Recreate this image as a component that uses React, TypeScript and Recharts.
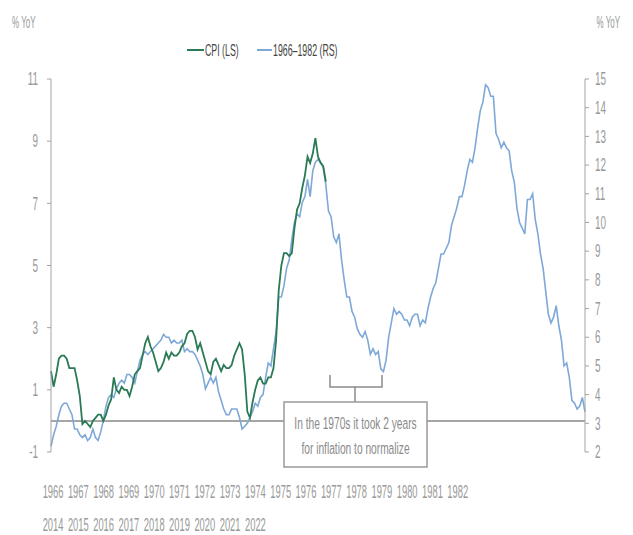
import React from "react";
import { LineChart, Line, XAxis, YAxis, ReferenceLine } from "recharts";

// CPI YoY, monthly, Jan 2014 - Oct 2022 (left scale)
const cpiValues = [
    1.6, 1.1, 1.5, 2.0, 2.1, 2.1, 2.0, 1.7, 1.7, 1.7, 1.3, 0.8,
    -0.1, 0.0, -0.1, -0.2, 0.0, 0.1, 0.2, 0.2, 0.0, 0.2, 0.5, 0.7,
    1.4, 1.0, 0.9, 1.1, 1.0, 1.0, 0.8, 1.1, 1.5, 1.6, 1.7, 2.1,
    2.5, 2.7, 2.4, 2.2, 1.9, 1.6, 1.7, 1.9, 2.2, 2.0, 2.2, 2.1,
    2.1, 2.2, 2.4, 2.5, 2.8, 2.9, 2.9, 2.7, 2.3, 2.5, 2.2, 1.9,
    1.6, 1.5, 1.9, 2.0, 1.8, 1.6, 1.8, 1.7, 1.7, 1.8, 2.1, 2.3,
    2.5, 2.3, 1.5, 0.3, 0.1, 0.6, 1.0, 1.3, 1.4, 1.2, 1.2, 1.4,
    1.4, 1.7, 2.6, 4.2, 5.0, 5.4, 5.4, 5.3, 5.4, 6.2, 6.8, 7.0,
    7.5, 7.9, 8.5, 8.3, 8.6, 9.1, 8.5, 8.3, 8.2, 7.7,
];

// 1966-1982 path (right scale), one point per month as drawn
const blueValues = [
    2.2, 2.6, 2.9, 3.3, 3.6, 3.7, 3.7, 3.5, 3.3, 2.8, 2.8, 2.6,
    2.5, 2.6, 2.4, 2.5, 2.8, 2.5, 2.4, 2.7, 3.1, 3.6,
    3.9, 4.0, 3.9, 4.2, 4.4, 4.5, 4.4, 4.7, 4.7, 4.6,
    4.4, 4.8, 5.2, 5.4, 5.5, 5.4, 5.5, 5.6, 5.7, 5.8, 5.9, 6.1,
    6.0, 6.0, 5.8, 5.9, 5.8, 5.8, 5.9, 5.5, 5.6, 5.5, 5.5, 5.4,
    5.2, 5.0, 4.7, 4.2, 4.4, 4.6, 4.4, 4.6, 4.1, 3.8, 3.5, 3.3,
    3.3, 3.5, 3.5, 3.5, 3.2, 2.8, 2.9, 3.0, 3.2, 3.4, 3.7, 3.6,
    3.9, 4.0, 4.6, 5.1, 5.0, 5.6, 6.2, 7.4, 7.4, 7.8, 8.4, 8.7,
    9.4, 10.0, 10.3, 10.2, 10.7, 10.9, 11.5, 10.9, 11.8, 12.1, 12.2, 12.1,
    11.9, 11.3, 10.4, 10.2, 9.5, 9.3, 9.6, 8.7, 8.0, 7.4, 7.4, 6.9,
    6.7, 6.3, 6.1, 6.0, 6.2, 5.9, 5.4, 5.6, 5.4, 5.5, 4.9, 4.8,
    5.2, 6.0, 6.5, 7.0, 6.8, 6.9, 6.8, 6.6, 6.6, 6.4, 6.7, 6.8,
    6.8, 6.4, 6.6, 6.5, 7.0, 7.4, 7.7, 7.9, 8.4, 8.9, 8.9, 9.1,
    9.3, 9.9, 10.2, 10.5, 10.9, 10.9, 11.3, 11.8, 12.2, 12.1, 12.6, 13.3,
    13.9, 14.2, 14.8, 14.7, 14.4, 14.4, 13.1, 12.9, 12.6, 12.8, 12.6, 12.5,
    11.8, 11.4, 10.5, 10.0, 9.8, 9.6, 10.8, 10.8, 11.0, 10.1, 9.6, 8.9,
    8.4, 7.6, 6.8, 6.5, 6.7, 7.1, 6.4, 5.9, 5.0, 5.1, 4.6, 3.8,
    3.7, 3.5, 3.6, 3.9, 3.4,
];

const topYears = [
    "1966", "1967", "1968", "1969", "1970", "1971", "1972", "1973", "1974",
    "1975", "1976", "1977", "1978", "1979", "1980", "1981", "1982",
];
const bottomYears = [
    "2014", "2015", "2016", "2017", "2018", "2019", "2020", "2021", "2022",
];
const leftTicks = [-1, 1, 3, 5, 7, 9, 11];
const rightTicks = [2, 3, 4, 5, 6, 7, 8, 9, 10, 11, 12, 13, 14, 15];

const GREEN = "#2a7a55";
const BLUE = "#7ea8d8";
const GREY_TEXT = "#999999";
const AXIS = "#a3a3a3";
const FONT = "'Liberation Sans', Arial, sans-serif";

const rows = blueValues.map((b, i) => ({
    i,
    blue: b,
    cpi: i < cpiValues.length ? cpiValues[i] : null,
}));

// narrow text, the source font is a condensed grotesque
const CText = ({ x, y, children, anchor = "start", size = 18, sx = 0.55, fill = GREY_TEXT }: any) => (
    <text
        transform={`translate(${x},${y}) scale(${sx},1)`}
        textAnchor={anchor}
        fontSize={size}
        fill={fill}
        fontFamily={FONT}
        dominantBaseline="central"
    >
        {children}
    </text>
);

const LeftTick = ({ x, y, payload }: any) => (
    <CText x={x} y={y} anchor="end">{payload.value}</CText>
);
const RightTick = ({ x, y, payload }: any) => (
    <CText x={x} y={y}>{payload.value}</CText>
);
const YearTick = ({ x, y, payload }: any) => {
    const k = payload.value;
    return (
        <g>
            <CText x={x} y={y + 10} anchor="middle" size={18} sx={0.52}>{topYears[k]}</CText>
            {bottomYears[k] && (
                <CText x={x} y={y + 43} anchor="middle" size={18} sx={0.52}>{bottomYears[k]}</CText>
            )}
        </g>
    );
};

export default function App() {
    const labTicks = topYears.map((_, k) => k);
    return (
        <div style={{ position: "absolute", left: 0, top: 0, width: 633, height: 535, background: "#fff" }}>
            <LineChart
                width={633}
                height={535}
                data={rows}
                margin={{ top: 79, right: 8, bottom: 13, left: 11 }}
            >
                <XAxis xAxisId="d" dataKey="i" type="number" domain={[0, blueValues.length - 1]} hide />
                <XAxis
                    xAxisId="lab"
                    dataKey="i"
                    type="number"
                    domain={[-0.08, 21.03]}
                    allowDataOverflow
                    ticks={labTicks}
                    interval={0}
                    axisLine={false}
                    tickLine={false}
                    tickSize={0}
                    tickMargin={0}
                    height={70}
                    tick={<YearTick />}
                />
                <YAxis
                    yAxisId="left"
                    width={40}
                    domain={[-1, 11]}
                    ticks={leftTicks}
                    interval={0}
                    stroke={AXIS}
                    tickSize={4}
                    tickMargin={9}
                    tick={<LeftTick />}
                />
                <YAxis
                    yAxisId="right"
                    orientation="right"
                    width={40}
                    domain={[2, 15]}
                    ticks={rightTicks}
                    interval={0}
                    stroke={AXIS}
                    tickSize={4}
                    tickMargin={6}
                    tick={<RightTick />}
                />
                <ReferenceLine xAxisId="d" yAxisId="left" y={0} stroke="#a6a6a6" strokeWidth={2} />
                <Line
                    xAxisId="d"
                    yAxisId="right"
                    dataKey="blue"
                    stroke={BLUE}
                    strokeWidth={1.6}
                    dot={false}
                    isAnimationActive={false}
                />
                <Line
                    xAxisId="d"
                    yAxisId="left"
                    dataKey="cpi"
                    stroke={GREEN}
                    strokeWidth={1.8}
                    dot={false}
                    connectNulls={false}
                    isAnimationActive={false}
                />
            </LineChart>
            <svg
                width={633}
                height={535}
                style={{ position: "absolute", left: 0, top: 0, pointerEvents: "none" }}
            >
                <CText x={12} y={23} size={16} sx={0.5}>% YoY</CText>
                <CText x={620} y={23} size={16} sx={0.5} anchor="end">% YoY</CText>
                {/* legend */}
                <line x1={187} x2={204} y1={50} y2={50} stroke={GREEN} strokeWidth={2} />
                <CText x={205} y={50} size={16} fill="#444">CPI (LS)</CText>
                <line x1={257} x2={272} y1={50} y2={50} stroke={BLUE} strokeWidth={2} />
                <CText x={273} y={50} size={16} fill="#444">1966–1982 (RS)</CText>
                {/* annotation */}
                <path d="M330,375 V387 H382 V375 M355,387 V402" fill="none" stroke="#8a8a8a" strokeWidth={1.5} />
                <rect x={284} y={402} width={143} height={65} fill="#fff" stroke="#9a9a9a" strokeWidth={1.5} />
                <CText x={355.5} y={423} anchor="middle" size={17} sx={0.6} fill="#8a8a8a">In the 1970s it took 2 years</CText>
                <CText x={355.5} y={448} anchor="middle" size={17} sx={0.6} fill="#8a8a8a">for inflation to normalize</CText>
            </svg>
        </div>
    );
}
